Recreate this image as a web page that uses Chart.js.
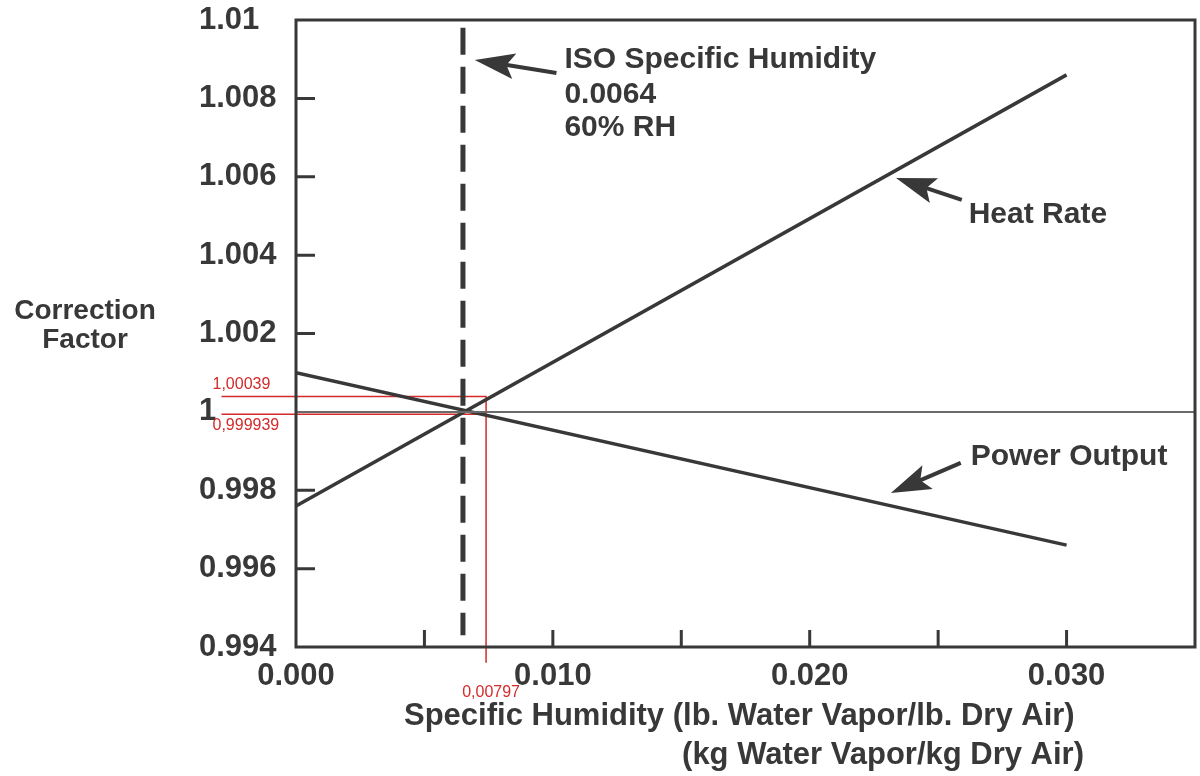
<!DOCTYPE html>
<html>
<head>
<meta charset="utf-8">
<script src="https://cdn.jsdelivr.net/npm/chart.js@4.4.1/dist/chart.umd.min.js"></script>
<style>
  html, body { margin: 0; background: #fff; }
  #wrap { width: 1200px; height: 776px; }
</style>
</head>
<body>
<div id="wrap"><canvas id="chart"></canvas></div>
<script>
// Data
const humidity = [0, 0.030];
const heatRate = [0.9976, 1.0086];
const powerOutput = [1.001, 0.9966];
const isoHumidity = 0.0065;
const isoRange = [0.9943, 1.0098];
const baseLevel = 1;

const xTicks = [0, 0.005, 0.010, 0.015, 0.020, 0.025, 0.030, 0.035];
const xTickLabels = ['0.000', '', '0.010', '', '0.020', '', '0.030', ''];
const yTicks = [0.994, 0.996, 0.998, 1, 1.002, 1.004, 1.006, 1.008, 1.01];
const yTickLabels = ['0.994', '0.996', '0.998', '1', '1.002', '1.004', '1.006', '1.008', '1.01'];

// red reading marks drawn over the scan
const markX = 0.0074;
const markLeft = -0.0029;
const markBottom = 0.9936;
const markHigh = 1.00039;
const markLow = 0.999939;
const markLabels = ['1,00039', '0,999939', '0,00797'];

const ink = '#383838';
const red = '#d42a2a';
const font = (size, weight = 'bold') => `${weight} ${size}px "Liberation Sans", Arial, sans-serif`;

function pts(xs, ys) {
  return xs.map((x, i) => ({ x, y: ys[i] }));
}

function arrow(ctx, x1, y1, x2, y2) {
  const ang = Math.atan2(y2 - y1, x2 - x1);
  const c = Math.cos(ang), s = Math.sin(ang);
  const head = 40, half = 13;
  ctx.beginPath();
  ctx.moveTo(x1, y1);
  ctx.lineTo(x2 - c * head * 0.7, y2 - s * head * 0.7);
  ctx.stroke();
  const bx = x2 - c * head, by = y2 - s * head;
  ctx.beginPath();
  ctx.moveTo(x2, y2);
  ctx.lineTo(bx - s * half, by + c * half);
  ctx.lineTo(x2 - c * head * 0.8, y2 - s * head * 0.8);
  ctx.lineTo(bx + s * half, by - c * half);
  ctx.closePath();
  ctx.fill();
}

const decorations = {
  id: 'decorations',
  afterDraw(chart) {
    const { ctx, chartArea: a, scales: { x, y } } = chart;
    const X = (v) => x.getPixelForValue(v);
    const Y = (v) => y.getPixelForValue(v);
    ctx.save();
    ctx.strokeStyle = ink;
    ctx.fillStyle = ink;

    // plot frame
    ctx.lineWidth = 3;
    ctx.strokeRect(a.left, a.top, a.right - a.left, a.bottom - a.top);

    // inward tick marks
    ctx.beginPath();
    xTicks.slice(1, -1).forEach((v) => {
      ctx.moveTo(X(v), a.bottom);
      ctx.lineTo(X(v), a.bottom - 17);
    });
    yTicks.slice(1, -1).forEach((v) => {
      if (v === baseLevel) return;
      ctx.moveTo(a.left, Y(v));
      ctx.lineTo(a.left + 19, Y(v));
    });
    ctx.stroke();

    // annotations
    ctx.lineWidth = 4;
    arrow(ctx, X(0.01014), Y(1.00865), X(0.00696), Y(1.00898));
    arrow(ctx, X(0.02592), Y(1.00541), X(0.02336), Y(1.00597));
    arrow(ctx, X(0.02588), Y(0.99870), X(0.02316), Y(0.99793));

    ctx.font = font(30);
    ctx.textBaseline = 'middle';
    ctx.textAlign = 'left';
    ctx.fillText('ISO Specific Humidity', X(0.01045), Y(1.00898));
    ctx.fillText('0.0064', X(0.01045), Y(1.00809));
    ctx.fillText('60% RH', X(0.01045), Y(1.00724));
    ctx.fillText('Heat Rate', X(0.02619), Y(1.00502));
    ctx.fillText('Power Output', X(0.02627), Y(0.99885));

    // axis titles
    ctx.textAlign = 'center';
    ctx.font = font(28);
    ctx.fillText('Correction', 85, 311);
    ctx.fillText('Factor', 85, 340);
    ctx.textAlign = 'left';
    ctx.font = font(31);
    ctx.fillText('Specific Humidity (lb. Water Vapor/lb. Dry Air)', 404, 716);
    ctx.textAlign = 'right';
    ctx.fillText('(kg Water Vapor/kg Dry Air)', 1084, 755);

    // red reading labels
    ctx.fillStyle = red;
    ctx.font = font(16, 'normal');
    ctx.textAlign = 'left';
    ctx.fillText(markLabels[0], X(markLeft) - 9, Y(markHigh) - 12);
    ctx.fillText(markLabels[1], X(markLeft) - 9, Y(markLow) + 11);
    ctx.textAlign = 'center';
    ctx.fillText(markLabels[2], X(markX) + 5, Y(markBottom) + 30);
    ctx.restore();
  }
};

const lineBase = { pointRadius: 0, tension: 0, fill: false, borderCapStyle: 'butt' };

new Chart(document.getElementById('chart'), {
  type: 'line',
  data: {
    datasets: [
      { ...lineBase, label: 'Base', data: pts([0, 0.035], [baseLevel, baseLevel]), borderColor: '#6a6a6a', borderWidth: 2 },
      { ...lineBase, label: 'Heat Rate', data: pts(humidity, heatRate), borderColor: ink, borderWidth: 3.5 },
      { ...lineBase, label: 'Power Output', data: pts(humidity, powerOutput), borderColor: ink, borderWidth: 3.5 },
      { ...lineBase, label: 'ISO', data: pts([isoHumidity, isoHumidity], [isoRange[1], isoRange[0]]), borderColor: ink, borderWidth: 5, borderDash: [27, 12] },
      { ...lineBase, label: 'mark high', data: pts([markLeft, markX, markX], [markHigh, markHigh, markBottom]), borderColor: red, borderWidth: 1.5, clip: false },
      { ...lineBase, label: 'mark low', data: pts([markLeft, markX], [markLow, markLow]), borderColor: red, borderWidth: 1.5, clip: false },
    ],
  },
  options: {
    responsive: true,
    maintainAspectRatio: false,
    animation: false,
    layout: { padding: { left: 199, top: 20, right: 5, bottom: 0 } },
    plugins: { legend: { display: false }, tooltip: { enabled: false } },
    scales: {
      x: {
        type: 'linear',
        min: 0,
        max: 0.035,
        afterBuildTicks: (s) => { s.ticks = xTicks.map((value) => ({ value })); },
        afterFit: (s) => { s.height = 129; s.paddingLeft = 0; s.paddingRight = 0; },
        grid: { display: false, drawTicks: false },
        border: { display: false },
        ticks: {
          padding: 11,
          maxRotation: 0,
          autoSkip: false,
          color: ink,
          font: { family: '"Liberation Sans", Arial, sans-serif', size: 31, weight: 'bold' },
          callback: (v, i) => xTickLabels[i],
        },
      },
      y: {
        type: 'linear',
        min: 0.994,
        max: 1.01,
        afterBuildTicks: (s) => { s.ticks = yTicks.map((value) => ({ value })); },
        afterFit: (s) => { s.width = 97; s.paddingTop = 0; s.paddingBottom = 0; },
        grid: { display: false, drawTicks: false },
        border: { display: false },
        ticks: {
          crossAlign: 'far',
          autoSkip: false,
          color: ink,
          font: { family: '"Liberation Sans", Arial, sans-serif', size: 31, weight: 'bold' },
          callback: (v, i) => yTickLabels[i],
        },
      },
    },
  },
  plugins: [decorations],
});
</script>
</body>
</html>
